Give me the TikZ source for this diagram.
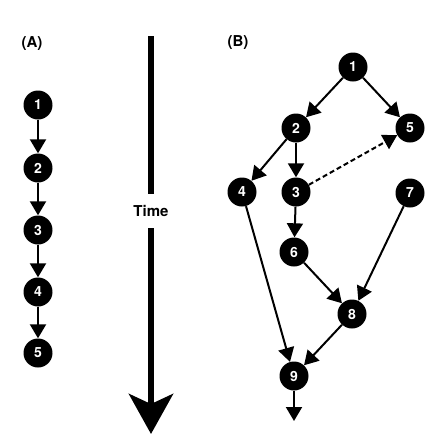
\documentclass[tikz,border=0pt]{standalone}
\usepackage{fontspec}
\setmainfont{TeX Gyre Heros}
\usetikzlibrary{arrows.meta}
\begin{document}
\begin{tikzpicture}[x=1pt,y=-1pt,
  ev/.style={circle,fill=black,minimum size=29pt,inner sep=0pt,text=white,font=\bfseries\fontsize{14}{16}\selectfont},
  lbl/.style={font=\bfseries\fontsize{15}{17}\selectfont},
  edge/.style={line width=2pt,-{Triangle[length=14pt,width=16pt]}},
  dedge/.style={edge,dash pattern=on 5pt off 3pt}]
\useasboundingbox (0,0) rectangle (438,448);
% (A)
\node[lbl] (la) at (32,44) {(A)};
\node[ev] (a1) at (38,105) {1};
\node[ev] (a2) at (38,168) {2};
\node[ev] (a3) at (38,230) {3};
\node[ev] (a4) at (38,292) {4};
\node[ev] (a5) at (38,353) {5};
\draw[edge] (a1) -- (a2);
\draw[edge] (a2) -- (a3);
\draw[edge] (a3) -- (a4);
\draw[edge] (a4) -- (a5);
% Time
\coordinate (t0) at (151,36);
\coordinate (t1) at (151,434);
\node[lbl,fill=white,inner sep=2pt,minimum height=34pt] (time) at (151,211) {Time};
\draw[line width=6.5pt] (t0) -- (time.north);
\draw[line width=6.5pt,-{Stealth[length=40pt,width=44pt,inset=10pt]}] (time.south) -- (t1);
% (B)
\node[lbl] (lb) at (238,43) {(B)};
\node[ev] (b1) at (353,67) {1};
\node[ev] (b2) at (296,128) {2};
\node[ev] (b5) at (410,128) {5};
\node[ev] (b4) at (242,192) {4};
\node[ev] (b3) at (296,192) {3};
\node[ev] (b7) at (410,193) {7};
\node[ev] (b6) at (294,252) {6};
\node[ev] (b8) at (352,314) {8};
\node[ev] (b9) at (294,376) {9};
\coordinate (bend) at (294,421);
\draw[edge] (b1) -- (b2);
\draw[edge] (b1) -- (b5);
\draw[edge] (b2) -- (b4);
\draw[edge] (b2) -- (b3);
\draw[dedge] (b3) -- (b5);
\draw[edge] (b4) -- (b9);
\draw[edge] (b3) -- (b6);
\draw[edge] (b6) -- (b8);
\draw[edge] (b7) -- (b8);
\draw[edge] (b8) -- (b9);
\draw[edge] (b9) -- (bend);
\end{tikzpicture}
\end{document}
